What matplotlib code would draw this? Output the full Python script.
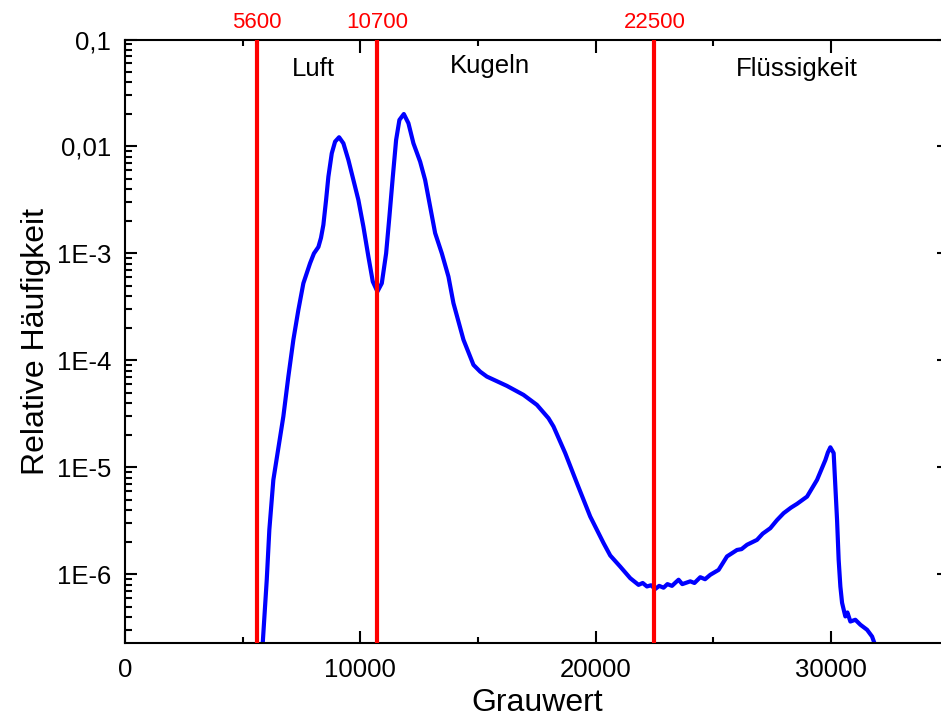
import matplotlib
matplotlib.use("Agg")
import matplotlib.pyplot as plt
from matplotlib.ticker import LogLocator, MultipleLocator, NullFormatter
import matplotlib.transforms as mtransforms

plt.rcParams['font.family'] = ['Liberation Sans', 'DejaVu Sans']

# Histogramm der Grauwerte (relative Haeufigkeit)
grauwert = [5830, 5855, 6025, 6135, 6305, 6730, 6943, 7156, 7368, 7581,
            7866, 8030, 8220, 8330, 8431, 8546, 8644, 8788, 8929, 9099,
            9282, 9494, 9707, 9919, 10132, 10344, 10531, 10727, 10914,
            11097, 11237, 11382, 11522, 11662, 11850, 12045, 12258, 12543,
            12755, 12968, 13180, 13465, 13746, 13958, 14384, 14809, 15094,
            15378, 16229, 16935, 17504, 17997, 18210, 18707, 19205, 19770,
            20336, 20621, 21046, 21471, 21824, 22000, 22181, 22350, 22534,
            22700, 22887, 23050, 23244, 23400, 23525, 23682, 24022, 24200,
            24447, 24650, 24872, 25225, 25582, 26008, 26200, 26433, 26858,
            27100, 27423, 27700, 27989, 28300, 28559, 28984, 29409, 29762,
            29870, 29974, 30115, 30187, 30259, 30327, 30400, 30472, 30570,
            30612, 30700, 30825, 31037, 31250, 31535, 31748, 31845, 31900]
haeufigkeit = [2.0e-7, 2.29e-7, 8.89e-7, 2.61e-6, 7.63e-6, 2.99e-5, 7.06e-5,
               1.56e-4, 2.96e-4, 5.26e-4, 8.1e-4, 1.0e-3, 1.15e-3, 1.4e-3,
               1.85e-3, 3.16e-3, 5.22e-3, 8.63e-3, 1.11e-2, 1.22e-2, 1.07e-2,
               7.48e-3, 4.86e-3, 3.16e-3, 1.78e-3, 9.33e-4, 5.45e-4, 4.40e-4,
               5.26e-4, 1.00e-3, 2.21e-3, 5.22e-3, 1.15e-2, 1.77e-2, 2.01e-2,
               1.65e-2, 1.07e-2, 7.21e-3, 4.86e-3, 2.74e-3, 1.55e-3, 1.00e-3,
               6.07e-4, 3.43e-4, 1.56e-4, 9.08e-5, 7.85e-5, 7.06e-5, 5.78e-5,
               4.76e-5, 3.84e-5, 2.88e-5, 2.41e-5, 1.36e-5, 7.12e-6, 3.47e-6,
               1.96e-6, 1.5e-6, 1.18e-6, 9.20e-7, 7.97e-7, 8.3e-7, 7.7e-7,
               7.9e-7, 7.3e-7, 7.8e-7, 7.5e-7, 8.1e-7, 7.8e-7, 8.4e-7,
               8.9e-7, 8.1e-7, 8.6e-7, 8.3e-7, 9.4e-7, 9.0e-7, 9.9e-7,
               1.10e-6, 1.47e-6, 1.69e-6, 1.72e-6, 1.89e-6, 2.10e-6, 2.4e-6,
               2.70e-6, 3.2e-6, 3.73e-6, 4.2e-6, 4.56e-6, 5.33e-6, 7.64e-6,
               1.17e-5, 1.38e-5, 1.54e-5, 1.36e-5, 6.62e-6, 3.23e-6, 1.37e-6,
               7.69e-7, 5.42e-7, 4.40e-7, 4.04e-7, 4.4e-7, 3.62e-7, 3.76e-7,
               3.38e-7, 3.03e-7, 2.62e-7, 2.28e-7, 2.0e-7]

# Schwellwerte und Bereiche
schwellen = [5600, 10700, 22500]
bereiche = ["Luft", "Kugeln", "Flüssigkeit"]
bereich_x = [8020, 15500, 28560]
bereich_y = [0.94, 0.944, 0.939]

yticks = [1e-6, 1e-5, 1e-4, 1e-3, 1e-2, 1e-1]
ytick_labels = ["1E-6", "1E-5", "1E-4", "1E-3", "0,01", "0,1"]
xticks = [0, 10000, 20000, 30000]

fig = plt.figure(figsize=(9.41, 7.17), dpi=100)
ax = fig.add_axes([0.1328, 0.1032, 0.8753, 0.8417])

ax.plot(grauwert, haeufigkeit, color="#0000ff", lw=3, zorder=2,
        solid_joinstyle="round")
for s in schwellen:
    ax.axvline(s, color="#ff0000", lw=3, zorder=3)

trans = mtransforms.blended_transform_factory(ax.transData, ax.transAxes)
for s in schwellen:
    ax.annotate(str(s), xy=(s, 1.0), xycoords=trans, xytext=(0, 8),
                textcoords="offset points", ha="center", va="baseline",
                color="#ff0000", fontsize=16, annotation_clip=False)

for name, bx, by in zip(bereiche, bereich_x, bereich_y):
    ax.text(bx, by, name, transform=trans, ha="center", va="baseline",
            fontsize=18.5)

ax.set_yscale("log")
ax.set_xlim(0, 35000)
ax.set_ylim(2.28e-7, 0.1)

ax.set_xticks(xticks)
ax.set_xticklabels([str(t) for t in xticks])
ax.xaxis.set_minor_locator(MultipleLocator(5000))
ax.set_yticks(yticks)
ax.set_yticklabels(ytick_labels)
ax.yaxis.set_minor_locator(LogLocator(base=10, subs=range(2, 10), numticks=20))
ax.yaxis.set_minor_formatter(NullFormatter())

ax.tick_params(which="both", direction="in", top=True, right=True,
               width=1.5, labelsize=18.5)
ax.tick_params(axis="x", which="major", length=9, pad=11)
ax.tick_params(axis="x", which="minor", length=4.5)
ax.tick_params(axis="y", which="major", length=8.5, pad=10)
ax.tick_params(axis="y", which="minor", length=5)
for sp in ax.spines.values():
    sp.set_linewidth(1.5)

ax.set_xlabel("Grauwert", fontsize=23, labelpad=4)
ax.set_ylabel("Relative Häufigkeit", fontsize=23, labelpad=4)

fig.savefig("out.png", dpi=100)
